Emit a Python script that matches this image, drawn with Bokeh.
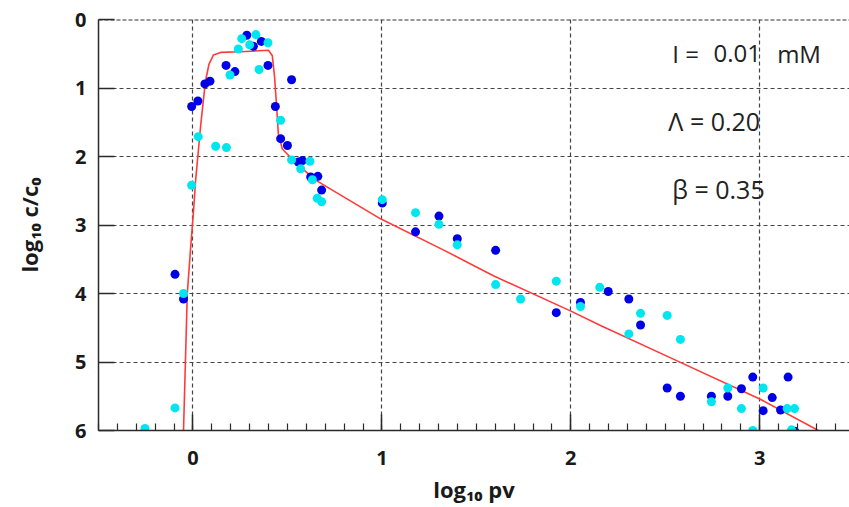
from bokeh.plotting import figure
from bokeh.models import Range1d, Label, SingleIntervalTicker, Span
from bokeh.embed import file_html
from bokeh.resources import INLINE

# ---- data ----
blue_x = [0.285, 0.362, 0.320, 0.175, 0.222, 0.397, 0.522, 0.090, 0.063, 0.026, -0.007, 0.436,
          0.464, 0.500, 0.558, 0.579, 0.623, 0.661, 0.681, -0.095, -0.050,
          1.002, 1.178, 1.302, 1.399, 1.602, 1.923, 2.051, 2.198, 2.307, 2.369, 2.510, 2.580,
          2.744, 2.831, 2.903, 2.963, 3.018, 3.066, 3.110, 3.150, 3.185]
blue_y = [0.23, 0.32, 0.39, 0.67, 0.76, 0.67, 0.88, 0.90, 0.94, 1.19, 1.27, 1.27,
          1.74, 1.84, 2.08, 2.06, 2.30, 2.29, 2.49, 3.72, 4.08,
          2.68, 3.10, 2.87, 3.20, 3.37, 4.28, 4.13, 3.97, 4.08, 4.46, 5.38, 5.50,
          5.50, 5.50, 5.39, 5.22, 5.71, 5.52, 5.70, 5.22, 6.01]

cyan_x = [0.333, 0.258, 0.300, 0.397, 0.240, 0.196, 0.350, 0.120, 0.177, 0.028, -0.007, -0.050,
          -0.095, -0.254, 0.464, 0.522, 0.619, 0.570, 0.632, 0.658, 0.681,
          1.002, 1.178, 1.302, 1.399, 1.602, 1.734, 1.923, 2.051, 2.153, 2.369, 2.307, 2.510,
          2.580, 2.744, 2.831, 2.903, 2.963, 3.018, 3.145, 3.184, 3.168]
cyan_y = [0.22, 0.28, 0.37, 0.34, 0.43, 0.81, 0.73, 1.85, 1.87, 1.71, 2.42, 4.00,
          5.67, 5.97, 1.47, 2.05, 2.07, 2.18, 2.34, 2.61, 2.66,
          2.63, 2.82, 2.99, 3.29, 3.87, 4.08, 3.82, 4.19, 3.91, 4.29, 4.59, 4.32,
          4.67, 5.58, 5.38, 5.68, 6.00, 5.38, 5.68, 5.68, 5.99]

fit_x = [-0.050, -0.030, -0.012, 0.002, 0.014, 0.027, 0.040, 0.055, 0.067, 0.085, 0.108, 0.147,
         0.252, 0.400, 0.420, 0.432, 0.443, 0.452, 0.473, 0.508, 0.640, 0.993, 1.330, 1.590,
         1.995, 2.160, 2.560, 3.000, 3.310]
fit_y = [6.00, 4.00, 3.32, 2.83, 2.35, 1.96, 1.57, 1.18, 0.89, 0.65, 0.52, 0.48,
         0.47, 0.45, 0.53, 0.84, 1.28, 1.67, 1.89, 1.99, 2.33, 2.91, 3.37, 3.74,
         4.25, 4.47, 4.98, 5.54, 6.00]

x_title = "log\u2081\u2080 pv"
y_title = "log\u2081\u2080 c/c\u2080"

FONT = "Open Sans"

p = figure(width=849, height=507, output_backend="svg", toolbar_location=None,
           x_range=Range1d(-0.5, 3.475), y_range=Range1d(6, 0),
           min_border_left=98, min_border_right=0, min_border_top=19, min_border_bottom=77,
           background_fill_color="white", border_fill_color="white")
p.outline_line_color = None

# axes
p.xaxis.ticker = SingleIntervalTicker(interval=1, num_minor_ticks=10)
p.yaxis.ticker = SingleIntervalTicker(interval=1, num_minor_ticks=0)
for ax in (p.xaxis[0], p.yaxis[0]):
    ax.axis_line_color = "#2a2a2a"
    ax.axis_line_width = 1.5
    ax.major_tick_line_color = "#2a2a2a"
    ax.major_tick_line_width = 1.5
    ax.major_tick_out = 0
    ax.major_tick_in = 16
    ax.minor_tick_out = 0
    ax.minor_tick_in = 7
    ax.minor_tick_line_color = "#2a2a2a"
    ax.minor_tick_line_width = 1.2
    ax.major_label_text_font = FONT
    ax.major_label_text_font_size = "20px"
    ax.major_label_text_font_style = "bold"
    ax.major_label_text_color = "#1a1a1a"
    ax.axis_label_text_font = FONT
    ax.axis_label_text_font_size = "22px"
    ax.axis_label_text_font_style = "bold"
    ax.axis_label_text_color = "#1a1a1a"
p.yaxis.minor_tick_line_color = None
p.xaxis.major_label_standoff = 20
p.yaxis.major_label_standoff = 12
p.xaxis.axis_label = x_title
p.yaxis.axis_label = y_title
p.xaxis.axis_label_standoff = 6
p.yaxis.axis_label_standoff = 28

# grids
p.xgrid.ticker = SingleIntervalTicker(interval=1)
p.ygrid.ticker = SingleIntervalTicker(interval=1)
for g in (p.xgrid[0], p.ygrid[0]):
    g.grid_line_color = "#444444"
    g.grid_line_dash = "4 3"
    g.grid_line_width = 1.2
p.add_layout(Span(location=0, dimension="width", line_color="#333333",
                  line_dash="4 2", line_width=2))

# fitted curve and points
p.line(fit_x, fit_y, line_color="#ff3a3a", line_width=1.6)
p.scatter(blue_x, blue_y, size=9, fill_color="#0000e6", line_color=None)
p.scatter(cyan_x, cyan_y, size=9, fill_color="#00e6f0", line_color=None)

def lab(text, x, y, size):
    p.add_layout(Label(x=x, y=y, text=text, text_font=FONT, text_font_size=size,
                       text_baseline="alphabetic", text_align="left",
                       text_color="#222222"))

# parameter notes
lab("I =", 2.537, 0.497, "24px")
lab("0.01", 2.755, 0.497, "24px")
lab("mM", 3.092, 0.497, "24px")
lab("\u039b = 0.20", 2.516, 1.485, "25px")
lab("\u03b2 = 0.35", 2.537, 2.48, "25px")

open("out.html", "w").write(file_html(p, INLINE))
